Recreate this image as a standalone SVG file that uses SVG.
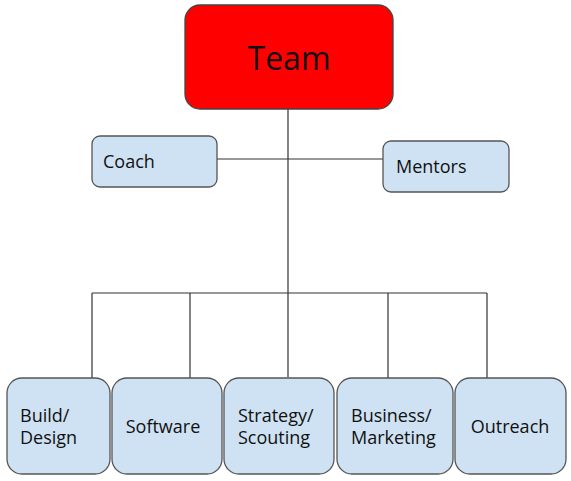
<svg xmlns="http://www.w3.org/2000/svg" width="571" height="481" viewBox="0 0 571 481">
<style>
.box{fill:#cfe2f3;stroke:#555;stroke-width:1.3}
.t{font-family:"Open Sans","Noto Sans",sans-serif;font-size:18px;fill:#111}
.c{stroke:#333;stroke-width:1.2;fill:none}
</style>
<rect width="571" height="481" fill="#fff"/>
<g id="connectors">
<path class="c" d="M288 109V377M217 159H383M92 293H487M92 293V378M190 293V378M388 293V378M487 293V378"/>
</g>
<g id="team"><rect x="185" y="5" width="208" height="104" rx="15" fill="#ff0000" stroke="#444" stroke-width="1.3"/><text x="289" y="70" text-anchor="middle" style="font-family:'Open Sans','Noto Sans',sans-serif;font-size:32px;fill:#111">Team</text></g>
<g id="coach"><rect class="box" x="92" y="136" width="125" height="51" rx="8"/><text class="t" x="103" y="168">Coach</text></g>
<g id="mentors"><rect class="box" x="383" y="141" width="126" height="51" rx="8"/><text class="t" x="396" y="173">Mentors</text></g>
<g id="build"><rect class="box" x="7" y="378" width="103" height="96" rx="15"/><text class="t" x="20" y="422">Build/</text><text class="t" x="20" y="444">Design</text></g>
<g id="software"><rect class="box" x="112" y="378" width="110" height="96" rx="15"/><text class="t" x="163" y="433" text-anchor="middle">Software</text></g>
<g id="strategy"><rect class="box" x="224" y="378" width="110" height="96" rx="15"/><text class="t" x="238" y="422">Strategy/</text><text class="t" x="238" y="444">Scouting</text></g>
<g id="business"><rect class="box" x="337" y="378" width="116" height="96" rx="15"/><text class="t" x="351" y="422">Business/</text><text class="t" x="351" y="444">Marketing</text></g>
<g id="outreach"><rect class="box" x="455" y="378" width="111" height="96" rx="15"/><text class="t" x="510" y="433" text-anchor="middle">Outreach</text></g>
</svg>
